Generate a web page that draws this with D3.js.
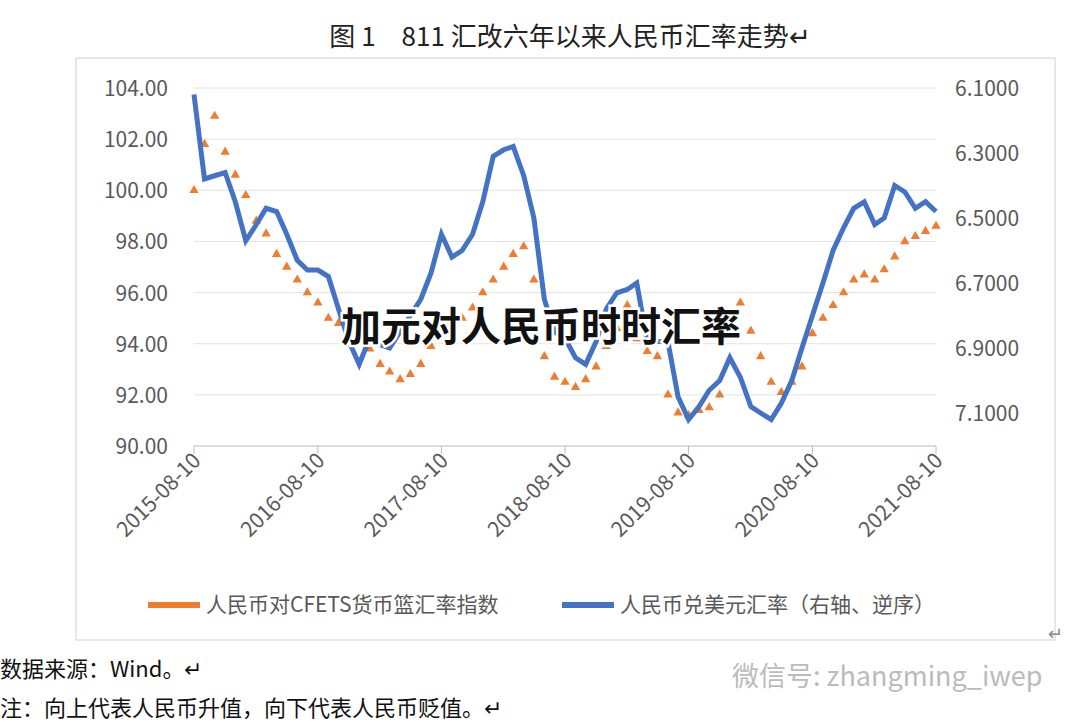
<!DOCTYPE html>
<html lang="zh">
<head>
<meta charset="UTF-8" />
<style>
  body { margin: 0; background: #fff; font-family: "Noto Sans CJK SC", sans-serif; }
  svg text { font-family: "Noto Sans CJK SC", "Liberation Sans", sans-serif; }
</style>
</head>
<body>
<svg id="chart" width="1080" height="726"></svg>
<script src="https://d3js.org/d3.v7.min.js"></script>
<script>
  // monthly readings, Aug 2015 .. Aug 2021
  const months = d3.range(0, 73).map(i => new Date(2015, 7 + i, 10));
  const usdcny = [6.12, 6.38, 6.37, 6.36, 6.45, 6.57, 6.52, 6.47, 6.48, 6.55, 6.63, 6.66,
    6.66, 6.68, 6.78, 6.88, 6.95, 6.87, 6.89, 6.90, 6.85, 6.80, 6.75, 6.67, 6.55, 6.62,
    6.60, 6.55, 6.45, 6.31, 6.29, 6.28, 6.37, 6.50, 6.75, 6.85, 6.87, 6.93, 6.95, 6.88,
    6.78, 6.73, 6.72, 6.70, 6.88, 6.88, 6.88, 7.05, 7.12, 7.08, 7.03, 7.00, 6.93, 6.99,
    7.08, 7.10, 7.12, 7.07, 7.00, 6.90, 6.80, 6.70, 6.60, 6.53, 6.47, 6.45, 6.52, 6.50,
    6.40, 6.42, 6.47, 6.45, 6.48];
  const cfets = [100.0, 101.8, 102.9, 101.5, 100.6, 99.8, 98.8, 98.3, 97.5, 97.0, 96.5, 96.0,
    95.6, 95.0, 94.8, 94.5, 94.2, 93.8, 93.2, 92.9, 92.6, 92.8, 93.2, 93.9, 94.4, 94.8,
    95.0, 95.4, 96.0, 96.5, 97.0, 97.5, 97.8, 96.5, 93.5, 92.7, 92.5, 92.3, 92.6, 93.1,
    93.9, 94.6, 95.5, 94.2, 93.7, 93.5, 92.0, 91.3, 91.2, 91.4, 91.5, 92.0, 93.4, 95.6,
    94.5, 93.5, 92.5, 92.1, 92.5, 93.1, 94.4, 95.0, 95.5, 96.0, 96.5, 96.7, 96.5, 96.9,
    97.4, 98.0, 98.2, 98.4, 98.6];
  const leftTicks = [90, 92, 94, 96, 98, 100, 102, 104];
  const rightTicks = [6.1, 6.3, 6.5, 6.7, 6.9, 7.1];
  const xTicks = d3.range(2015, 2022).map(y => new Date(y, 7, 10));

  const svg = d3.select("#chart");
  const x = d3.scaleTime().domain([new Date(2015, 7, 10), new Date(2021, 7, 10)]).range([194, 936]);
  const yL = d3.scaleLinear().domain([90, 104]).range([446, 88]);
  const yR = d3.scaleLinear().domain([6.1, 7.2]).range([88, 445.5]);

  svg.append("text").attr("x", 570).attr("y", 46).attr("text-anchor", "middle")
    .attr("font-size", 26).attr("fill", "#222").text("图 1　811 汇改六年以来人民币汇率走势↵");
  svg.append("rect").attr("x", 76).attr("y", 58).attr("width", 979).attr("height", 582)
    .attr("fill", "none").attr("stroke", "#d0d0d0");

  svg.append("g").selectAll("line").data(leftTicks).join("line")
    .attr("x1", 194).attr("x2", 936).attr("y1", d => yL(d)).attr("y2", d => yL(d))
    .attr("stroke", d => d === 90 ? "#bbb" : "#e2e2e2");
  svg.append("g").selectAll("text").data(leftTicks).join("text")
    .attr("x", 168).attr("y", d => yL(d) + 8).attr("text-anchor", "end")
    .attr("font-size", 21).attr("fill", "#595959").text(d => d.toFixed(2));
  svg.append("g").selectAll("text").data(rightTicks).join("text")
    .attr("x", 955).attr("y", d => yR(d) + 8)
    .attr("font-size", 21).attr("fill", "#595959").text(d => d.toFixed(4));
  svg.append("g").selectAll("line").data(xTicks).join("line")
    .attr("x1", d => x(d)).attr("x2", d => x(d)).attr("y1", 446).attr("y2", 454).attr("stroke", "#bbb");
  svg.append("g").selectAll("text").data(xTicks).join("text")
    .attr("transform", d => `translate(${x(d) + 8},${462}) rotate(-45)`)
    .attr("text-anchor", "end").attr("font-size", 21).attr("fill", "#595959")
    .text(d => d3.timeFormat("%Y-%m-%d")(d));

  const tri = d3.symbol().type(d3.symbolTriangle).size(38);
  svg.append("g").selectAll("path").data(cfets).join("path")
    .attr("transform", (d, i) => `translate(${x(months[i])},${yL(d)})`)
    .attr("d", tri).attr("fill", "#ed7d31");

  svg.append("path").datum(usdcny)
    .attr("d", d3.line().x((d, i) => x(months[i])).y(d => yR(d)))
    .attr("fill", "none").attr("stroke", "#4472c4").attr("stroke-width", 5);

  const lg = svg.append("g").attr("font-size", 21).attr("fill", "#595959");
  lg.append("line").attr("x1", 148).attr("x2", 200).attr("y1", 605).attr("y2", 605).attr("stroke", "#ed7d31").attr("stroke-width", 6);
  lg.append("text").attr("x", 206).attr("y", 612).text("人民币对CFETS货币篮汇率指数");
  lg.append("line").attr("x1", 562).attr("x2", 614).attr("y1", 605).attr("y2", 605).attr("stroke", "#4472c4").attr("stroke-width", 6);
  lg.append("text").attr("x", 620).attr("y", 612).text("人民币兑美元汇率（右轴、逆序）");
  svg.append("text").attr("x", 1048).attr("y", 640).attr("font-size", 18).attr("fill", "#888").text("↵");

  svg.append("text").attr("x", 0).attr("y", 677).attr("font-size", 22).attr("fill", "#111").text("数据来源：Wind。↵");
  svg.append("text").attr("x", 0).attr("y", 716).attr("font-size", 22).attr("fill", "#111").text("注：向上代表人民币升值，向下代表人民币贬值。↵");
  svg.append("text").attr("x", 732).attr("y", 686).attr("font-size", 27).attr("fill", "#bbb").text("微信号: zhangming_iwep");

  svg.append("text").attr("x", 541).attr("y", 341).attr("text-anchor", "middle")
    .attr("font-size", 40).attr("font-weight", "bold").attr("fill", "#111")
    .attr("stroke", "#fff").attr("stroke-width", 5).attr("paint-order", "stroke")
    .text("加元对人民币时时汇率");
</script>
</body>
</html>
